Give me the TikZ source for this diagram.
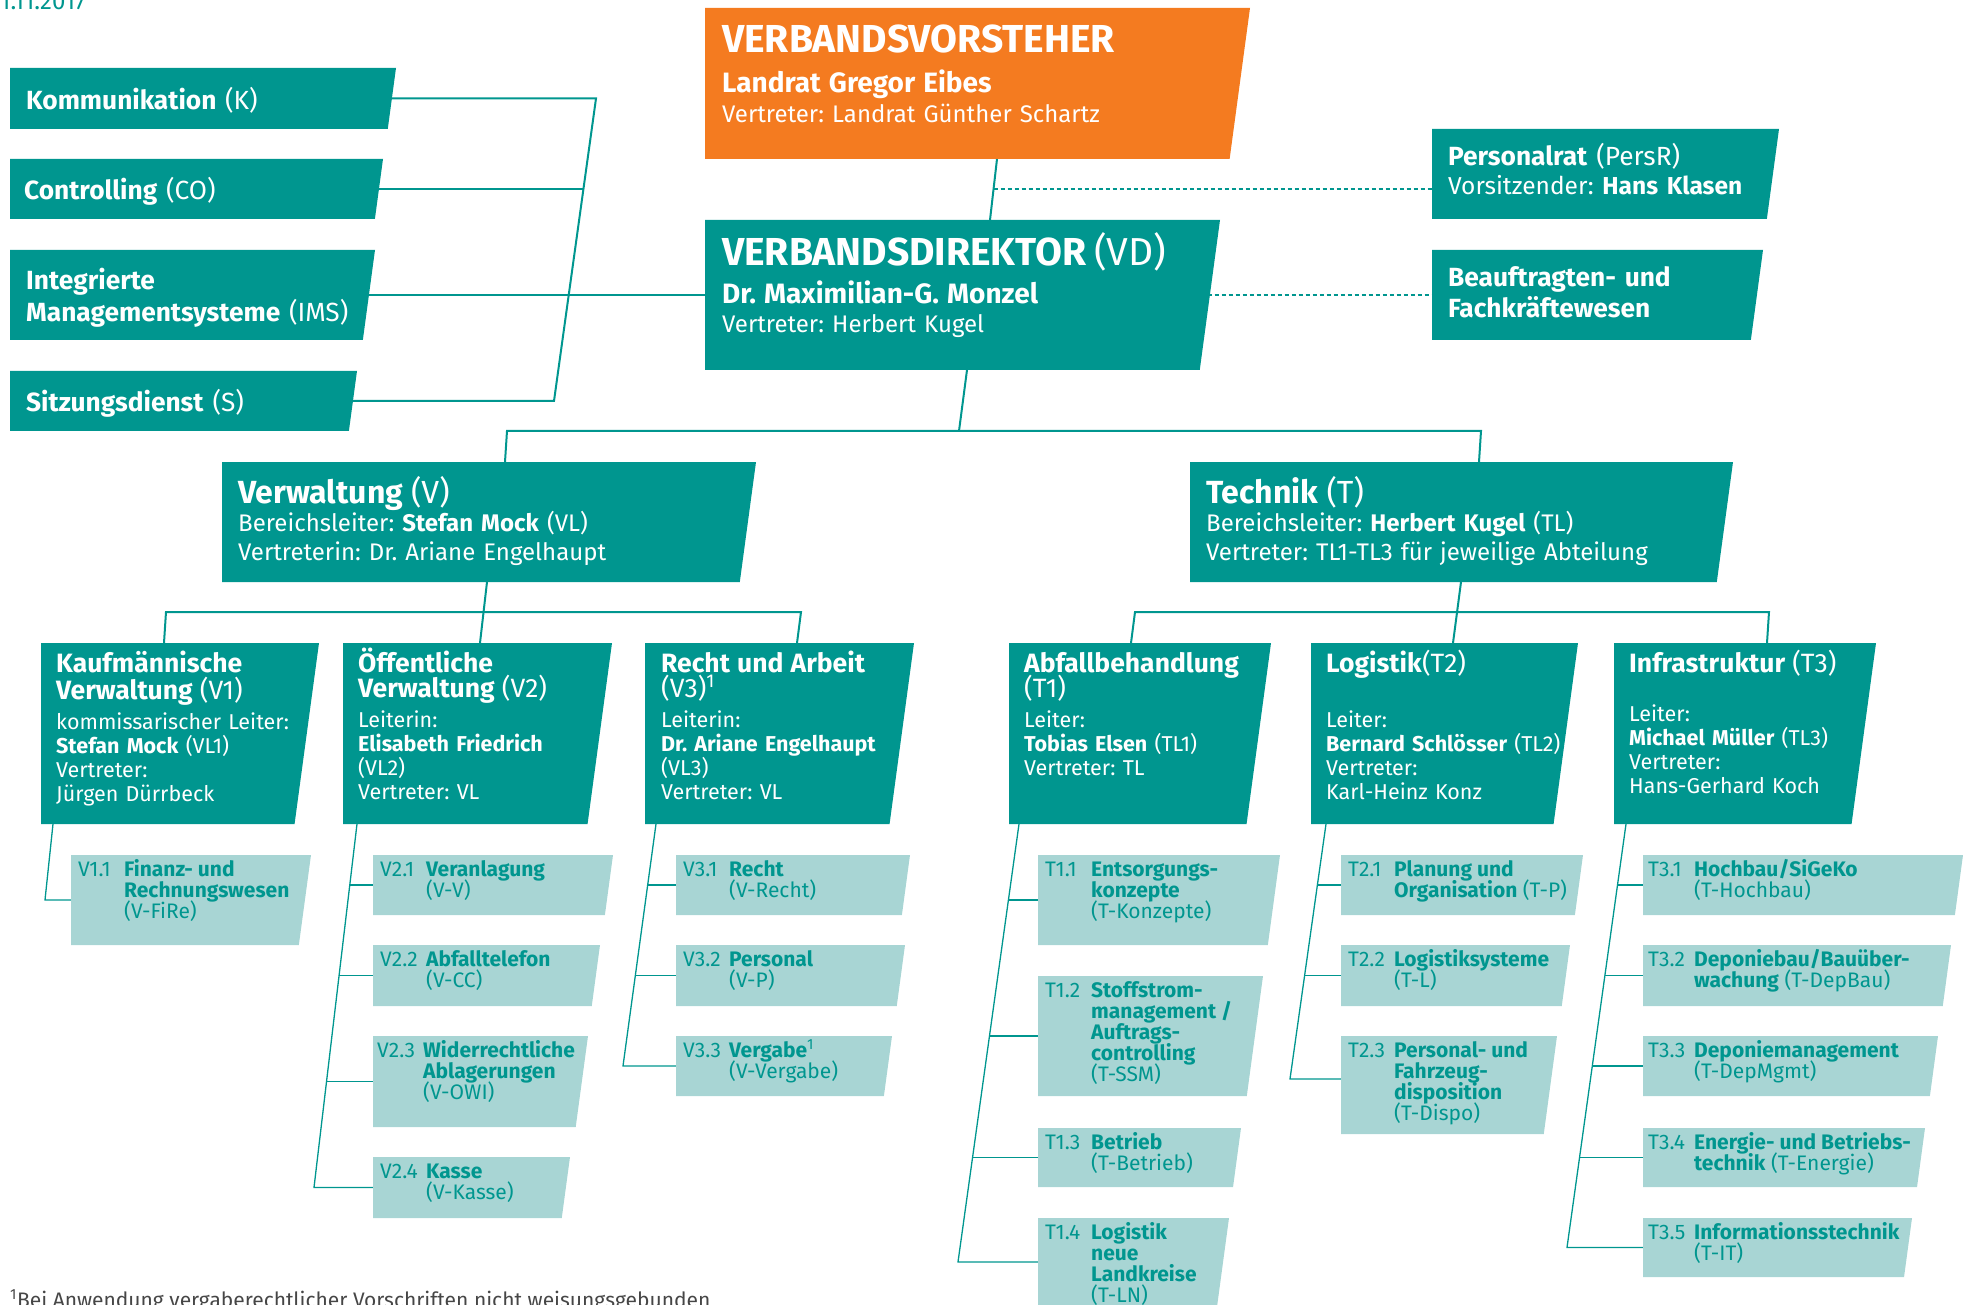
\documentclass[tikz,border=0pt]{standalone}
\usepackage{fontspec}
\setmainfont{Fira Sans}
\usetikzlibrary{calc, positioning}
\frenchspacing

\definecolor{dteal}{RGB}{0,150,143}
\definecolor{lteal}{RGB}{168,213,212}
\definecolor{orng}{RGB}{244,123,32}
\definecolor{fgray}{RGB}{70,70,70}

\newcommand{\fhead}{\fontsize{39}{40}\selectfont}
\newcommand{\fname}{\fontsize{28}{30}\selectfont}
\newcommand{\frep}{\fontsize{24}{30}\selectfont}
\newcommand{\fside}{\fontsize{26.3}{31}\selectfont}
\newcommand{\fchair}{\fontsize{24.5}{31}\selectfont}
\newcommand{\farea}{\fontsize{32}{34}\selectfont}
\newcommand{\fline}{\fontsize{24}{28.5}\selectfont}
\newcommand{\fdept}{\fontsize{26.5}{24}\selectfont}
\newcommand{\fsub}{\fontsize{21.5}{24}\selectfont}
\newcommand{\funit}{\fontsize{21}{21}\selectfont}
\newcommand{\orgunit}[2]{\makebox[46pt][l]{#1}\parbox[t]{260pt}{\raggedright
  \lineskiplimit=-8pt\lineskip=0pt #2}}
\newcommand{\slantfill}[2]{\fill [#2] (#1.north west) -- (#1.north east)
  -- ($(#1.south east)!0.135!90:(#1.north east)$) -- (#1.south west) -- cycle;}

\begin{document}
\begin{tikzpicture}[x=1pt, y=-1pt,
    box/.style={rectangle, anchor=north west, inner sep=0pt, outer sep=0pt},
    txt/.style={inner sep=0pt, text width=560pt, align=left, text=white,
      execute at begin node={\lineskiplimit=-30pt\lineskip=0pt}},
    unittxt/.style={inner sep=0pt, text=dteal, font=\funit},
    wire/.style={draw=dteal, line width=2pt},
    twig/.style={draw=dteal, line width=1.3pt},
    dots/.style={draw=dteal, line width=1.5pt, dash pattern=on 4pt off 3pt}]
  \useasboundingbox (0,0) rectangle (1963,1305);
  \clip (0,0) rectangle (1963,1305);

  % BOXES

  \node [box, minimum width=386pt, minimum height=61pt] (komm) at (10,68) {};
  \node [box, minimum width=373pt, minimum height=60pt] (co) at (10,159) {};
  \node [box, minimum width=365pt, minimum height=90pt] (ims) at (10,250) {};
  \node [box, minimum width=347pt, minimum height=60pt] (sitz) at (10,371) {};

  \node [box, minimum width=545pt, minimum height=151pt] (vs) at (705,8) {};
  \node [box, minimum width=515pt, minimum height=150pt] (vd) at (705,220) {};
  \node [box, minimum width=347pt, minimum height=90pt] (persr) at (1432,129) {};
  \node [box, minimum width=331pt, minimum height=90pt] (bf) at (1432,250) {};

  \node [box, minimum width=534pt, minimum height=120pt] (vw) at (222,462) {};
  \node [box, minimum width=543pt, minimum height=120pt] (tk) at (1190,462) {};

  \foreach \n/\x/\w in {v1/41/278, v2/343/269, v3/645/269,
                        t1/1009/262, t2/1311/267, t3/1614/262}
    \node [box, minimum width=\w pt, minimum height=181pt] (\n) at (\x,643) {};

  \foreach \n/\x/\y/\w/\h in {v11/71/855/240/90,
      v21/373/855/240/60, v22/373/945/227/61, v23/373/1036/215/91, v24/373/1157/197/61,
      v31/676/855/234/60, v32/676/945/229/61, v33/676/1036/216/60,
      t11/1038/855/242/90, t12/1038/976/225/120, t13/1038/1128/203/59, t14/1038/1218/191/88,
      t21/1341/855/242/60, t22/1341/945/229/61, t23/1341/1036/216/98,
      t31/1643/855/320/60, t32/1643/945/308/61, t33/1643/1036/295/60,
      t34/1643/1128/282/59, t35/1643/1218/269/59}
    \node [box, minimum width=\w pt, minimum height=\h pt] (\n) at (\x,\y) {};

  % LINES

  \coordinate (stafftop) at (596,98.5);
  \coordinate (staffco) at (583,189);
  \coordinate (staffbot) at (554,401);
  \draw [wire] (komm.center) -- (stafftop) -- (staffbot) -- (sitz.center);
  \draw [wire] (co.center) -- (staffco);
  \draw [wire] (ims.center) -- (vd.center);

  \draw [wire] ([xshift=292pt]vs.south west) coordinate (vsfoot)
    -- ([xshift=285pt]vd.north west) coordinate (vdhead);
  \coordinate (prjoin) at ($(vsfoot)!0.49!(vdhead)$);
  \draw [dots] (prjoin) -- (prjoin -| persr.west);
  \draw [dots] (vd.center) -- (bf.west);

  \coordinate (busm) at (959,431);
  \coordinate (busl) at (507,431);
  \coordinate (busr) at (1481,431);
  \draw [wire] ([xshift=262pt]vd.south west) -- (busm);
  \draw [wire] ([xshift=283pt]vw.north west) -- (busl) -- (busr)
    -- ([xshift=289pt]tk.north west);

  \coordinate (vbusl) at (166,612);
  \coordinate (vbusr) at (801,612);
  \draw [wire] ([xshift=265pt]vw.south west) -- ([xshift=137pt]v2.north west);
  \draw [wire] ([xshift=123pt]v1.north west) -- (vbusl) -- (vbusr)
    -- ([xshift=152pt]v3.north west);

  \coordinate (tbusl) at (1135,612);
  \coordinate (tbusr) at (1769,612);
  \draw [wire] ([xshift=271pt]tk.south west) -- ([xshift=142pt]t2.north west);
  \draw [wire] ([xshift=122pt]t1.north west) -- (tbusl) -- (tbusr)
    -- ([xshift=153pt]t3.north west);

  \coordinate (v1end) at (45,900);
  \draw [twig] ([xshift=12pt]v1.south west) -- (v1end) -- (v11.center);

  \coordinate (v2a) at (350,885);
  \coordinate (v2b) at (339,975.5);
  \coordinate (v2c) at (326.5,1081.5);
  \coordinate (v2end) at (314,1187.5);
  \draw [twig] ([xshift=14pt]v2.south west) -- (v2end) -- (v24.center);
  \foreach \j/\u in {v2a/v21, v2b/v22, v2c/v23}
    \draw [twig] (\j) -- (\u.center);

  \coordinate (v3a) at (647.7,885);
  \coordinate (v3b) at (635.3,975.5);
  \coordinate (v3end) at (623,1066);
  \draw [twig] ([xshift=11pt]v3.south west) -- (v3end) -- (v33.center);
  \foreach \j/\u in {v3a/v31, v3b/v32}
    \draw [twig] (\j) -- (\u.center);

  \coordinate (t1a) at (1008.4,900);
  \coordinate (t1b) at (989.5,1036);
  \coordinate (t1c) at (972.6,1157.5);
  \coordinate (t1end) at (958,1262);
  \draw [twig] ([xshift=10pt]t1.south west) -- (t1end) -- (t14.center);
  \foreach \j/\u in {t1a/t11, t1b/t12, t1c/t13}
    \draw [twig] (\j) -- (\u.center);

  \coordinate (t2a) at (1317.4,885);
  \coordinate (t2b) at (1304.6,975.5);
  \coordinate (t2end) at (1290,1079);
  \draw [twig] ([xshift=15pt]t2.south west) -- (t2end) -- (t2end -| t23.center);
  \foreach \j/\u in {t2a/t21, t2b/t22}
    \draw [twig] (\j) -- (\u.center);

  \coordinate (t3a) at (1617.5,885);
  \coordinate (t3b) at (1604.9,975.5);
  \coordinate (t3c) at (1592.3,1066);
  \coordinate (t3d) at (1579.6,1157.5);
  \coordinate (t3end) at (1567,1247.5);
  \draw [twig] ([xshift=12pt]t3.south west) -- (t3end) -- (t35.center);
  \foreach \j/\u in {t3a/t31, t3b/t32, t3c/t33, t3d/t34}
    \draw [twig] (\j) -- (\u.center);

  % FILLS

  \slantfill{vs}{orng}
  \foreach \n in {komm, co, ims, sitz, vd, persr, bf, vw, tk,
                  v1, v2, v3, t1, t2, t3}
    {\slantfill{\n}{dteal}}
  \foreach \n in {v11, v21, v22, v23, v24, v31, v32, v33,
                  t11, t12, t13, t14, t21, t22, t23, t31, t32, t33, t34, t35}
    {\slantfill{\n}{lteal}}

  % TEXTS

  \node [inner sep=0pt, anchor=base west, text=dteal, font=\fontsize{24}{26}\selectfont]
    (stand) at (0,10) {1.11.2017};

  \node [txt, font=\fside, below right=42pt and 16pt of komm.north west,
    anchor=base west] (kommtext) {\textbf{Kommunikation} (K)};
  \node [txt, font=\fside, below right=41pt and 14pt of co.north west,
    anchor=base west] (cotext) {\textbf{Controlling} (CO)};
  \node [txt, font=\fside, below right=40pt and 16pt of ims.north west,
    anchor=base west] (imstext) {\textbf{Integrierte}\\[1pt]
    \textbf{Managementsysteme} (IMS)};
  \node [txt, font=\fside, below right=41pt and 16pt of sitz.north west,
    anchor=base west] (sitztext) {\textbf{Sitzungsdienst} (S)};

  \node [txt, font=\frep, below right=45pt and 17pt of vs.north west,
    anchor=base west] (vstext) {{\fhead\textbf{VERBANDSVORSTEHER}}\\[10pt]
    {\fname\textbf{Landrat Gregor Eibes}}\\
    Vertreter: Landrat Günther Schartz};
  \node [txt, font=\frep, below right=46pt and 17pt of vd.north west,
    anchor=base west] (vdtext) {{\fhead\textbf{VERBANDSDIREKTOR} (VD)}\\[8pt]
    {\fname\textbf{Dr. Maximilian-G. Monzel}}\\[-1pt]
    Vertreter: Herbert Kugel};
  \node [txt, font=\fside, below right=37pt and 16pt of persr.north west,
    anchor=base west] (persrtext) {\textbf{Personalrat} (PersR)\\[-2pt]
    {\fchair Vorsitzender: \textbf{Hans Klasen}}};
  \node [txt, font=\fside, below right=37pt and 16pt of bf.north west,
    anchor=base west] (bftext) {\textbf{Beauftragten- und}\\
    \textbf{Fachkräftewesen}};

  \node [txt, font=\fline, below right=41pt and 16pt of vw.north west,
    anchor=base west] (vwtext) {{\farea\textbf{Verwaltung} (V)}\\
    Bereichsleiter: \textbf{Stefan Mock} (VL)\\
    Vertreterin: Dr. Ariane Engelhaupt};
  \node [txt, font=\fline, below right=41pt and 16pt of tk.north west,
    anchor=base west] (tktext) {{\farea\textbf{Technik} (T)}\\
    Bereichsleiter: \textbf{Herbert Kugel} (TL)\\
    Vertreter: TL1-TL3 für jeweilige Abteilung};

  \node [txt, font=\fsub, below right=29pt and 15pt of v1.north west,
    anchor=base west] (v1text) {{\fdept\textbf{Kaufmännische}}\\[3pt]
    {\fdept\textbf{Verwaltung} (V1)}\\[6pt]
    kommissarischer Leiter:\\
    \textbf{Stefan Mock} (VL1)\\
    Vertreter:\\
    Jürgen Dürrbeck};
  \node [txt, font=\fsub, below right=29pt and 15pt of v2.north west,
    anchor=base west] (v2text) {{\fdept\textbf{Öffentliche}}\\[1pt]
    {\fdept\textbf{Verwaltung} (V2)}\\[6pt]
    Leiterin:\\
    \textbf{Elisabeth Friedrich}\\
    (VL2)\\
    Vertreter: VL};
  \node [txt, font=\fsub, below right=29pt and 16pt of v3.north west,
    anchor=base west] (v3text) {{\fdept\textbf{Recht und Arbeit}}\\[1pt]
    {\fdept (V3)\textsuperscript{1}}\\[6pt]
    Leiterin:\\
    \textbf{Dr. Ariane Engelhaupt}\\
    (VL3)\\
    Vertreter: VL};
  \node [txt, font=\fsub, below right=29pt and 15pt of t1.north west,
    anchor=base west] (t1text) {{\fdept\textbf{Abfallbehandlung}}\\[1pt]
    {\fdept (T1)}\\[6pt]
    Leiter:\\
    \textbf{Tobias Elsen} (TL1)\\
    Vertreter: TL};
  \node [txt, font=\fsub, below right=29pt and 15pt of t2.north west,
    anchor=base west] (t2text) {{\fdept\textbf{Logistik}(T2)}\\[31pt]
    Leiter:\\
    \textbf{Bernard Schlösser} (TL2)\\
    Vertreter:\\
    Karl-Heinz Konz};
  \node [txt, font=\fsub, below right=29pt and 15pt of t3.north west,
    anchor=base west] (t3text) {{\fdept\textbf{Infrastruktur} (T3)}\\[25pt]
    Leiter:\\
    \textbf{Michael Müller} (TL3)\\
    Vertreter:\\
    Hans-Gerhard Koch};

  \node [unittxt, below right=21pt and 7pt of v11.north west, anchor=base west]
    (v11text) {\orgunit{V1.1}{\textbf{Finanz- und}\\\textbf{Rechnungswesen}\\(V-FiRe)}};
  \node [unittxt, below right=21pt and 7pt of v21.north west, anchor=base west]
    (v21text) {\orgunit{V2.1}{\textbf{Veranlagung}\\(V-V)}};
  \node [unittxt, below right=21pt and 7pt of v22.north west, anchor=base west]
    (v22text) {\orgunit{V2.2}{\textbf{Abfalltelefon}\\(V-CC)}};
  \node [unittxt, below right=21pt and 4pt of v23.north west, anchor=base west]
    (v23text) {\orgunit{V2.3}{\textbf{Widerrechtliche}\\\textbf{Ablagerungen}\\(V-OWI)}};
  \node [unittxt, below right=21pt and 7pt of v24.north west, anchor=base west]
    (v24text) {\orgunit{V2.4}{\textbf{Kasse}\\(V-Kasse)}};
  \node [unittxt, below right=21pt and 7pt of v31.north west, anchor=base west]
    (v31text) {\orgunit{V3.1}{\textbf{Recht}\\(V-Recht)}};
  \node [unittxt, below right=21pt and 7pt of v32.north west, anchor=base west]
    (v32text) {\orgunit{V3.2}{\textbf{Personal}\\(V-P)}};
  \node [unittxt, below right=21pt and 7pt of v33.north west, anchor=base west]
    (v33text) {\orgunit{V3.3}{\textbf{Vergabe}\textsuperscript{1}\\(V-Vergabe)}};

  \node [unittxt, below right=21pt and 7pt of t11.north west, anchor=base west]
    (t11text) {\orgunit{T1.1}{\textbf{Entsorgungs-}\\\textbf{konzepte}\\(T-Konzepte)}};
  \node [unittxt, below right=21pt and 7pt of t12.north west, anchor=base west]
    (t12text) {\orgunit{T1.2}{\textbf{Stoffstrom-}\\\textbf{management /}\\
    \textbf{Auftrags-}\\\textbf{controlling}\\(T-SSM)}};
  \node [unittxt, below right=21pt and 7pt of t13.north west, anchor=base west]
    (t13text) {\orgunit{T1.3}{\textbf{Betrieb}\\(T-Betrieb)}};
  \node [unittxt, below right=21pt and 7pt of t14.north west, anchor=base west]
    (t14text) {\orgunit{T1.4}{\textbf{Logistik}\\\textbf{neue}\\\textbf{Landkreise}\\(T-LN)}};
  \node [unittxt, below right=21pt and 7pt of t21.north west, anchor=base west]
    (t21text) {\orgunit{T2.1}{\textbf{Planung und}\\\textbf{Organisation} (T-P)}};
  \node [unittxt, below right=21pt and 7pt of t22.north west, anchor=base west]
    (t22text) {\orgunit{T2.2}{\textbf{Logistiksysteme}\\(T-L)}};
  \node [unittxt, below right=21pt and 7pt of t23.north west, anchor=base west]
    (t23text) {\orgunit{T2.3}{\textbf{Personal- und}\\\textbf{Fahrzeug-}\\
    \textbf{disposition}\\(T-Dispo)}};
  \node [unittxt, below right=21pt and 5pt of t31.north west, anchor=base west]
    (t31text) {\orgunit{T3.1}{\textbf{Hochbau/SiGeKo}\\(T-Hochbau)}};
  \node [unittxt, below right=21pt and 5pt of t32.north west, anchor=base west]
    (t32text) {\orgunit{T3.2}{\textbf{Deponiebau/Bauüber-}\\\textbf{wachung} (T-DepBau)}};
  \node [unittxt, below right=21pt and 5pt of t33.north west, anchor=base west]
    (t33text) {\orgunit{T3.3}{\textbf{Deponiemanagement}\\(T-DepMgmt)}};
  \node [unittxt, below right=21pt and 5pt of t34.north west, anchor=base west]
    (t34text) {\orgunit{T3.4}{\textbf{Energie- und Betriebs-}\\\textbf{technik} (T-Energie)}};
  \node [unittxt, below right=21pt and 5pt of t35.north west, anchor=base west]
    (t35text) {\orgunit{T3.5}{\textbf{Informationsstechnik}\\(T-IT)}};

  \node [inner sep=0pt, anchor=base west, text=fgray, font=\fontsize{21}{24}\selectfont]
    (note) at (10,1307)
    {\textsuperscript{1}Bei Anwendung vergaberechtlicher Vorschriften nicht weisungsgebunden};

\end{tikzpicture}
\end{document}
